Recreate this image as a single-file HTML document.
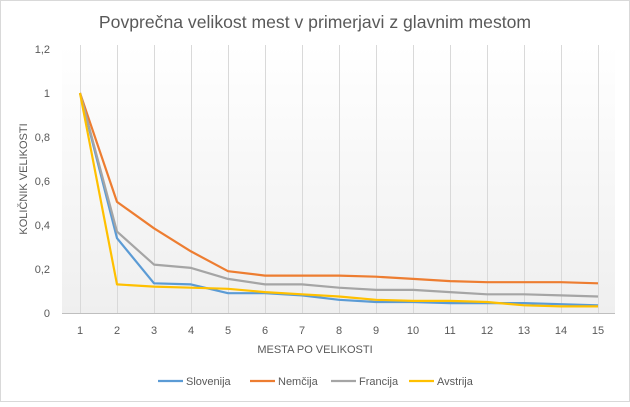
<!DOCTYPE html><html><head><style>body{margin:0;background:#fff}svg{font-family:"Liberation Sans",sans-serif}</style></head><body>
<svg width="630" height="402" viewBox="0 0 630 402">
<defs><linearGradient id="g" x1="0" y1="0" x2="0" y2="1"><stop offset="0" stop-color="#fff"/><stop offset="1" stop-color="#efefef"/></linearGradient></defs>
<rect x="0.5" y="0.5" width="629" height="401" fill="#fff" stroke="#d9d9d9"/>
<rect x="62" y="45" width="553" height="268" fill="url(#g)"/>
<text x="315" y="28" text-anchor="middle" font-size="17.6" fill="#595959">Povprečna velikost mest v primerjavi z glavnim mestom</text>
<g stroke="#d9d9d9" stroke-width="1" id="vg"></g>
<line x1="62" y1="313.5" x2="615" y2="313.5" stroke="#bfbfbf"/>
<g font-size="11" fill="#595959" text-anchor="end">
<text x="50" y="317">0</text><text x="50" y="273">0,2</text><text x="50" y="229">0,4</text><text x="50" y="185">0,6</text><text x="50" y="141">0,8</text><text x="50" y="97">1</text><text x="50" y="53">1,2</text></g>
<g font-size="11" fill="#595959" text-anchor="middle" id="xl"></g>
<text x="315" y="353" text-anchor="middle" font-size="11" fill="#595959">MESTA PO VELIKOSTI</text>
<text transform="translate(27,179) rotate(-90)" text-anchor="middle" font-size="11" fill="#595959">KOLIČNIK VELIKOSTI</text>
<g id="lines" fill="none" stroke-width="2.2" stroke-linejoin="round"></g>
<g font-size="11" fill="#595959">
<line x1="158" y1="381" x2="183" y2="381" stroke="#5b9bd5" stroke-width="2.2"/><text x="186" y="385">Slovenija</text>
<line x1="250" y1="381" x2="275" y2="381" stroke="#ed7d31" stroke-width="2.2"/><text x="278" y="385">Nemčija</text>
<line x1="331" y1="381" x2="356" y2="381" stroke="#a5a5a5" stroke-width="2.2"/><text x="359" y="385">Francija</text>
<line x1="409" y1="381" x2="434" y2="381" stroke="#ffc000" stroke-width="2.2"/><text x="437" y="385">Avstrija</text>
</g>
</svg>
<script>
var X=i=>80+i*37, Y=v=>313-v*220;
var vg=document.getElementById('vg'),xl=document.getElementById('xl'),L=document.getElementById('lines');
var s='',t='';
for(var i=0;i<15;i++){s+='<line x1="'+(X(i)+.5)+'" y1="45" x2="'+(X(i)+.5)+'" y2="313"/>';t+='<text x="'+X(i)+'" y="334">'+(i+1)+'</text>';}
vg.innerHTML=s;xl.innerHTML=t;
var D=[["#5b9bd5",[1,.34,.135,.13,.09,.09,.08,.06,.05,.05,.045,.045,.045,.04,.035]],
["#ed7d31",[1,.505,.385,.28,.19,.17,.17,.17,.165,.155,.145,.14,.14,.14,.135]],
["#a5a5a5",[1,.37,.22,.205,.155,.13,.13,.115,.105,.105,.095,.085,.085,.08,.075]],
["#ffc000",[1,.13,.12,.115,.11,.095,.085,.075,.06,.055,.055,.05,.035,.03,.03]]];
var h='';D.forEach(d=>{h+='<polyline stroke="'+d[0]+'" points="'+d[1].map((v,i)=>X(i)+','+Y(v)).join(' ')+'"/>';});
L.innerHTML=h;
</script>
</body></html>
